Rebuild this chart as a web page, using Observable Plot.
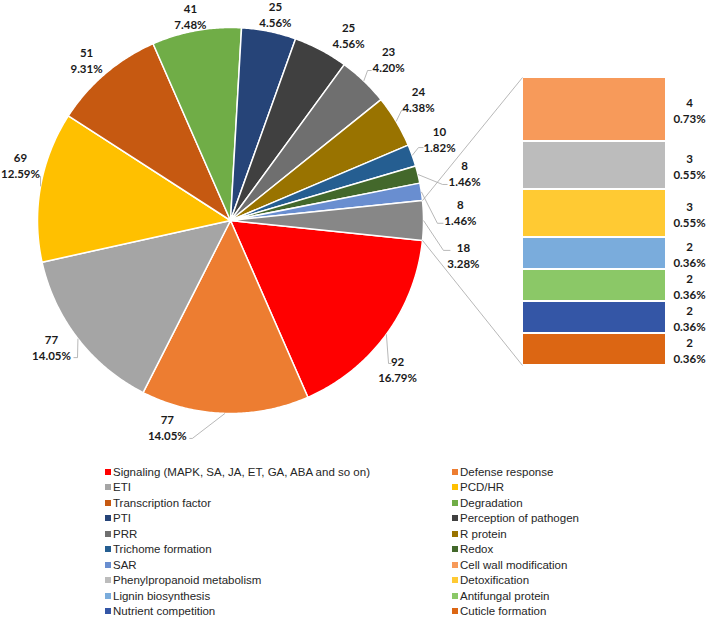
<!DOCTYPE html>
<html><head><meta charset="utf-8">
<script src="https://cdn.jsdelivr.net/npm/d3@7"></script>
<script src="https://cdn.jsdelivr.net/npm/@observablehq/plot@0.6"></script>
<style>
body{margin:0;background:#fff;}
#chart{width:709px;}
.legend{display:grid;grid-template-columns:347px 257px;padding-left:105px;margin-top:14px;font-family:"Liberation Sans",Arial,sans-serif;font-size:11.5px;color:#262626;}
.item{height:15.5px;display:flex;align-items:center;white-space:nowrap;}
.sw{width:6px;height:6px;margin-right:2px;flex:none;}
</style></head><body><div id="chart"></div>
<script>
// ---- data ----
const pieCategories = ["Signaling (MAPK, SA, JA, ET, GA, ABA and so on)", "Defense response", "ETI", "PCD/HR", "Transcription factor", "Degradation", "PTI", "Perception of pathogen", "PRR", "R protein", "Trichome formation", "Redox", "SAR"];
const pieValues = [92, 77, 77, 69, 51, 41, 25, 25, 23, 24, 10, 8, 8];
const barCategories = ["Cell wall modification", "Phenylpropanoid metabolism", "Detoxification", "Lignin biosynthesis", "Antifungal protein", "Nutrient competition", "Cuticle formation"];
const barValues = [4, 3, 3, 2, 2, 2, 2];

// ---- styles ----
const pieColors = ["#FF0000", "#ED7D31", "#A5A5A5", "#FFC000", "#C65911", "#70AD47", "#264478", "#404040", "#6F6F6F", "#997300", "#255E91", "#43682B", "#698ED0"];
const barColors = ["#F79A5A", "#BCBCBC", "#FFCA33", "#7AACDC", "#8BC867", "#3456A6", "#DC6613"];
const otherColor = "#878787";

// ---- layout (pixels / label placement) ----
const W = 709, H = 450;
const CX = 230, CY = 220, R = 193;
const BAR_X0 = 522, BAR_X1 = 666, BAR_TOP = 77, BAR_BOTTOM = 365, BAR_LABEL_X = 689;
const labelNudgeDeg = [5.5, 15.4, 2.5, 4.75, -1.4, -0.9, 0.76, 4.5, 0.7, -2.0, -1.7, 2.2, 6.5, 8.4];
const labelRadius = [1.158, 1.116, 1.136, 1.126, 1.119, 1.080, 1.097, 1.141, 1.171, 1.160, 1.163, 1.238, 1.192, 1.220];
// leader elbow / end offsets from label centre in px
const leaderOffsets = [[-9,-5.5,-6,-5.5],[25,12,22,12],[26,10.5,22,10.5],[20,12,18,12],null,null,null,null,[-21,11.5,-17,11.5],[-17,11.5,-14,11.5],[-21,9,-16,9],[-22,12,-17,12],[-23,11,-17,11],[-20,-4.5,-13,-4.5]];

// ---- derived ----
const otherValue = d3.sum(barValues);
const total = d3.sum(pieValues) + otherValue;
const degPer = 360 / total;
const startDeg = 90 + otherValue * degPer / 2;
const rad = d => d * Math.PI / 180;
const ux = (ang, r) => r * Math.sin(rad(ang));
const uy = (ang, r) => r * Math.cos(rad(ang));

const slices = [];
let acc = startDeg;
pieValues.forEach((v, i) => { slices.push({name: pieCategories[i], value: v, color: pieColors[i], a0: acc, a1: acc + v * degPer}); acc += v * degPer; });
slices.push({name: "Other", value: otherValue, color: otherColor, a0: acc, a1: acc + otherValue * degPer});

const slicePts = slices.flatMap((s, i) => {
  const n = Math.max(2, Math.ceil((s.a1 - s.a0) / 0.5));
  const pts = [{i, color: s.color, x: 0, y: 0}];
  for (let k = 0; k <= n; k++) {
    const ang = s.a0 + (s.a1 - s.a0) * k / n;
    pts.push({i, color: s.color, x: ux(ang, 1), y: uy(ang, 1)});
  }
  pts.push({i, color: s.color, x: 0, y: 0});
  return pts;
});

const fmt = v => `${v}\n${(v / total * 100).toFixed(2)}%`;
const labels = slices.map((s, i) => {
  const mid = (s.a0 + s.a1) / 2;
  const ang = mid + labelNudgeDeg[i];
  return {i, mid, x: ux(ang, labelRadius[i]), y: uy(ang, labelRadius[i]), text: fmt(s.value)};
});

const leaderPts = labels.flatMap((l, i) => {
  const o = leaderOffsets[i];
  if (!o) return [];
  return [
    {i, x: ux(l.mid, 1), y: uy(l.mid, 1)},
    {i, x: l.x + o[0] / R, y: l.y - o[1] / R},
    {i, x: l.x + o[2] / R, y: l.y - o[3] / R}
  ];
});

const bx0 = (BAR_X0 - CX) / R, bx1 = (BAR_X1 - CX) / R;
const byTop = (CY - BAR_TOP) / R, byBottom = (CY - BAR_BOTTOM) / R;
const unit = (byTop - byBottom) / otherValue;
let cursor = byTop;
const segs = barValues.map((v, i) => {
  const s = {name: barCategories[i], value: v, color: barColors[i], y1: cursor - v * unit, y2: cursor};
  cursor -= v * unit;
  return s;
});
const barLabels = segs.map(s => ({x: (BAR_LABEL_X - CX) / R, y: (s.y1 + s.y2) / 2, text: fmt(s.value)}));

const other = slices[slices.length - 1];
const connectors = [
  {x1: ux(other.a0, 1), y1: uy(other.a0, 1), x2: bx0, y2: byTop},
  {x1: ux(other.a1, 1), y1: uy(other.a1, 1), x2: bx0, y2: byBottom}
];

const chart = Plot.plot({
  width: W, height: H, margin: 0,
  x: {domain: [-CX / R, (W - CX) / R], axis: null},
  y: {domain: [(CY - H) / R, CY / R], axis: null},
  color: {type: "identity"},
  marks: [
    Plot.line(slicePts, {x: "x", y: "y", z: "i", fill: "color", stroke: "white", strokeWidth: 1.5, strokeLinejoin: "round"}),
    Plot.rect(segs, {x1: () => bx0, x2: () => bx1, y1: "y1", y2: "y2", fill: "color", stroke: "white", strokeWidth: 2}),
    Plot.link(connectors, {x1: "x1", y1: "y1", x2: "x2", y2: "y2", stroke: "#A6A6A6", strokeWidth: 0.8}),
    Plot.line(leaderPts, {x: "x", y: "y", z: "i", stroke: "#A6A6A6", strokeWidth: 0.8, strokeLinecap: "butt"}),
    Plot.text(labels, {x: "x", y: "y", text: "text", fontFamily: "Lato", fontWeight: "bold", fontSize: 11.5, lineHeight: 1.39, fill: "#1a1a1a"}),
    Plot.text(barLabels, {x: "x", y: "y", text: "text", fontFamily: "Lato", fontWeight: "bold", fontSize: 11.5, lineHeight: 1.39, fill: "#1a1a1a"})
  ]
});
const root = document.getElementById("chart");
root.appendChild(chart);

// legend
const legend = document.createElement("div");
legend.className = "legend";
const legendNames = pieCategories.concat(barCategories);
const legendColors = pieColors.concat(barColors);
legendNames.forEach((n, i) => {
  const it = document.createElement("div");
  it.className = "item";
  const sw = document.createElement("span");
  sw.className = "sw";
  sw.style.background = legendColors[i];
  const tx = document.createElement("span");
  tx.textContent = n;
  it.appendChild(sw); it.appendChild(tx);
  legend.appendChild(it);
});
root.appendChild(legend);
</script>
</body></html>
